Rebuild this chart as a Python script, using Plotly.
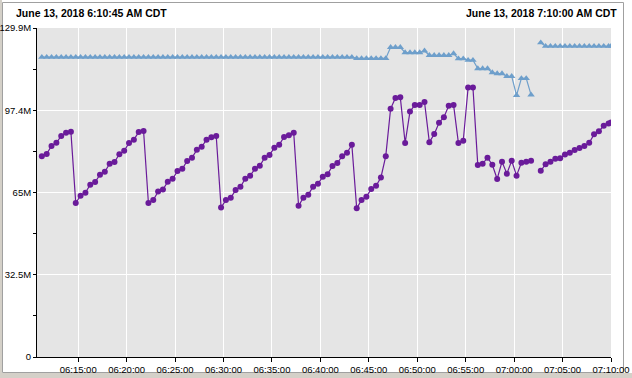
import plotly.graph_objects as go
import pandas as pd

# ---- data (values in millions) ----
start_time = "2018-06-13 06:10:45"
end_time = "2018-06-13 07:10:00"
first_sample = "2018-06-13 06:11:15"
n_regular = 118

purple_vals = [
    79.3, 80.2, 83.3, 84.6, 87.3, 88.5, 88.9, 60.8, 63.7, 64.9,
    68.0, 69.1, 72.0, 73.1, 76.3, 77.0, 80.1, 81.4, 84.5, 85.8,
    88.8, 89.2, 60.8, 62.0, 65.3, 66.1, 69.2, 70.4, 73.4, 74.3,
    77.4, 78.7, 81.8, 83.0, 85.8, 86.8, 87.3, 59.0, 62.0, 62.9,
    65.9, 67.2, 70.4, 71.6, 74.3, 75.5, 78.7, 79.8, 82.6, 83.8,
    86.9, 87.6, 88.5, 59.7, 62.9, 64.1, 67.2, 68.4, 71.2, 72.2,
    75.4, 76.6, 79.3, 80.6, 83.8, 58.7, 62.0, 63.3, 66.3, 67.6,
    70.9, 79.3, 98.0, 102.3, 102.6, 84.5, 96.9, 99.5, 99.5, 100.7,
    84.8, 88.0, 92.5, 94.7, 99.2, 99.5, 84.5, 85.4, 106.4, 106.4,
    75.8, 76.3, 78.7, 75.9, 70.3, 77.1, 72.4, 77.5, 71.6, 76.7,
    77.1, 77.5, None, 73.5, 76.1, 77.1, 78.3, 78.5, 80.0, 80.6,
    81.7, 82.5, 83.3, 84.6, 87.9, 89.1, 91.3, 92.2, 92.6,
]

blue_vals = [
    118.4, 118.4, 118.4, 118.4, 118.4, 118.4, 118.4, 118.4, 118.4, 118.4,
    118.4, 118.4, 118.4, 118.4, 118.4, 118.4, 118.4, 118.4, 118.4, 118.4,
    118.4, 118.4, 118.4, 118.4, 118.4, 118.4, 118.4, 118.4, 118.4, 118.4,
    118.4, 118.4, 118.4, 118.4, 118.4, 118.4, 118.4, 118.4, 118.4, 118.4,
    118.4, 118.4, 118.4, 118.4, 118.4, 118.4, 118.4, 118.4, 118.4, 118.4,
    118.4, 118.4, 118.4, 118.4, 118.4, 118.4, 118.4, 118.4, 118.4, 118.4,
    118.4, 118.4, 118.4, 118.4, 118.4, 117.9, 117.9, 117.9, 117.9, 117.9,
    117.9, 117.9, 122.3, 122.3, 122.3, 120.2, 120.2, 120.2, 120.2, 120.9,
    119.1, 119.1, 119.1, 119.1, 119.1, 119.8, 117.8, 117.8, 117.2, 117.2,
    113.9, 113.9, 113.9, 112.3, 111.9, 111.9, 110.8, 110.8, 103.3, 110.0,
    110.0, 103.5, None, 124.1, 122.7, 122.7, 122.7, 122.7, 122.7, 122.7,
    122.7, 122.7, 122.7, 122.7, 122.7, 122.7, 122.7, 122.7, 122.7,
]

y_tickvals = [0, 32.475, 64.95, 97.425, 129.9]
y_ticktext = ["0", "32.5M", "65M", "97.4M", "129.9M"]
y_minorvals = [16.2375, 48.7125, 81.1875, 113.6625]

title_left = "June 13, 2018 6:10:45 AM CDT"
title_right = "June 13, 2018 7:10:00 AM CDT"

times = list(pd.date_range(first_sample, periods=n_regular, freq="30s")) + [pd.Timestamp(end_time)]

# ---- geometry helpers ----
W, H = 632, 378
ML, MR, MT, MB = 37, 21, 28, 21
PW, PH = W - ML - MR, H - MT - MB


def px(x):
    return (x - ML) / PW


def py(y):
    return (H - MB - y) / PH


fig = go.Figure()
fig.add_trace(go.Scatter(
    x=times, y=blue_vals, mode="lines+markers", name="Blue",
    line=dict(color="#6e9fcb", width=1.2),
    marker=dict(symbol="triangle-up", size=6.5, color="#6e9fcb"),
    connectgaps=False, showlegend=False,
))
fig.add_trace(go.Scatter(
    x=times, y=purple_vals, mode="lines+markers", name="Purple",
    line=dict(color="#6a1b9a", width=1.2),
    marker=dict(symbol="circle", size=6, color="#6a1b9a"),
    connectgaps=False, showlegend=False,
))

font = dict(family="Liberation Sans, Arial, sans-serif", size=9.5, color="black")

fig.update_layout(
    width=W, height=H, autosize=False,
    margin=dict(l=ML, r=MR, t=MT, b=MB, pad=0),
    paper_bgcolor="white", plot_bgcolor="#e5e5e5",
    font=font,
    xaxis=dict(
        type="date", range=[start_time, end_time], automargin=False,
        tick0="2018-06-13 06:15:00", dtick=300000, tickformat="%H:%M:%S",
        showgrid=True, gridcolor="white", gridwidth=1,
        showline=True, linecolor="black", linewidth=1,
        ticks="outside", ticklen=4, tickcolor="black", tickwidth=1,
        zeroline=False, tickfont=font,
    ),
    yaxis=dict(
        range=[0, 129.9], tickmode="array", tickvals=y_tickvals, ticktext=y_ticktext,
        automargin=False,
        showgrid=True, gridcolor="white", gridwidth=1,
        showline=True, linecolor="black", linewidth=1,
        ticks="outside", ticklen=3, tickcolor="black", tickwidth=1,
        zeroline=False, tickfont=font,
        minor=dict(tickmode="array", tickvals=y_minorvals, ticks="outside", ticklen=3,
                   tickcolor="black", showgrid=False),
    ),
    annotations=[
        dict(text="<b>" + title_left + "</b>", xref="paper", yref="paper",
             x=px(14), y=py(13.5), xanchor="left", yanchor="middle", showarrow=False,
             font=dict(family="Liberation Sans, Arial, sans-serif", size=10.5, color="black")),
        dict(text="<b>" + title_right + "</b>", xref="paper", yref="paper",
             x=px(619), y=py(13.5), xanchor="right", yanchor="middle", showarrow=False,
             font=dict(family="Liberation Sans, Arial, sans-serif", size=10.5, color="black")),
    ],
    shapes=[
        dict(type="rect", xref="paper", yref="paper", x0=px(0), x1=px(2), y0=py(378), y1=py(0),
             fillcolor="#d4d0c8", line=dict(width=0), layer="below"),
        dict(type="rect", xref="paper", yref="paper", x0=px(0), x1=px(632), y0=py(378), y1=py(373),
             fillcolor="#d4d0c8", line=dict(width=0), layer="below"),
        dict(type="rect", xref="paper", yref="paper", x0=px(2.5), x1=px(623.5), y0=py(372.5), y1=py(2.5),
             fillcolor="rgba(0,0,0,0)", line=dict(color="#a0a0a0", width=1), layer="below"),
    ],
)

fig.write_html(
    "out.html",
    config={"displayModeBar": False},
    post_script="document.body.style.margin='0';document.body.style.padding='0';"
                "document.body.style.overflow='hidden';",
)
